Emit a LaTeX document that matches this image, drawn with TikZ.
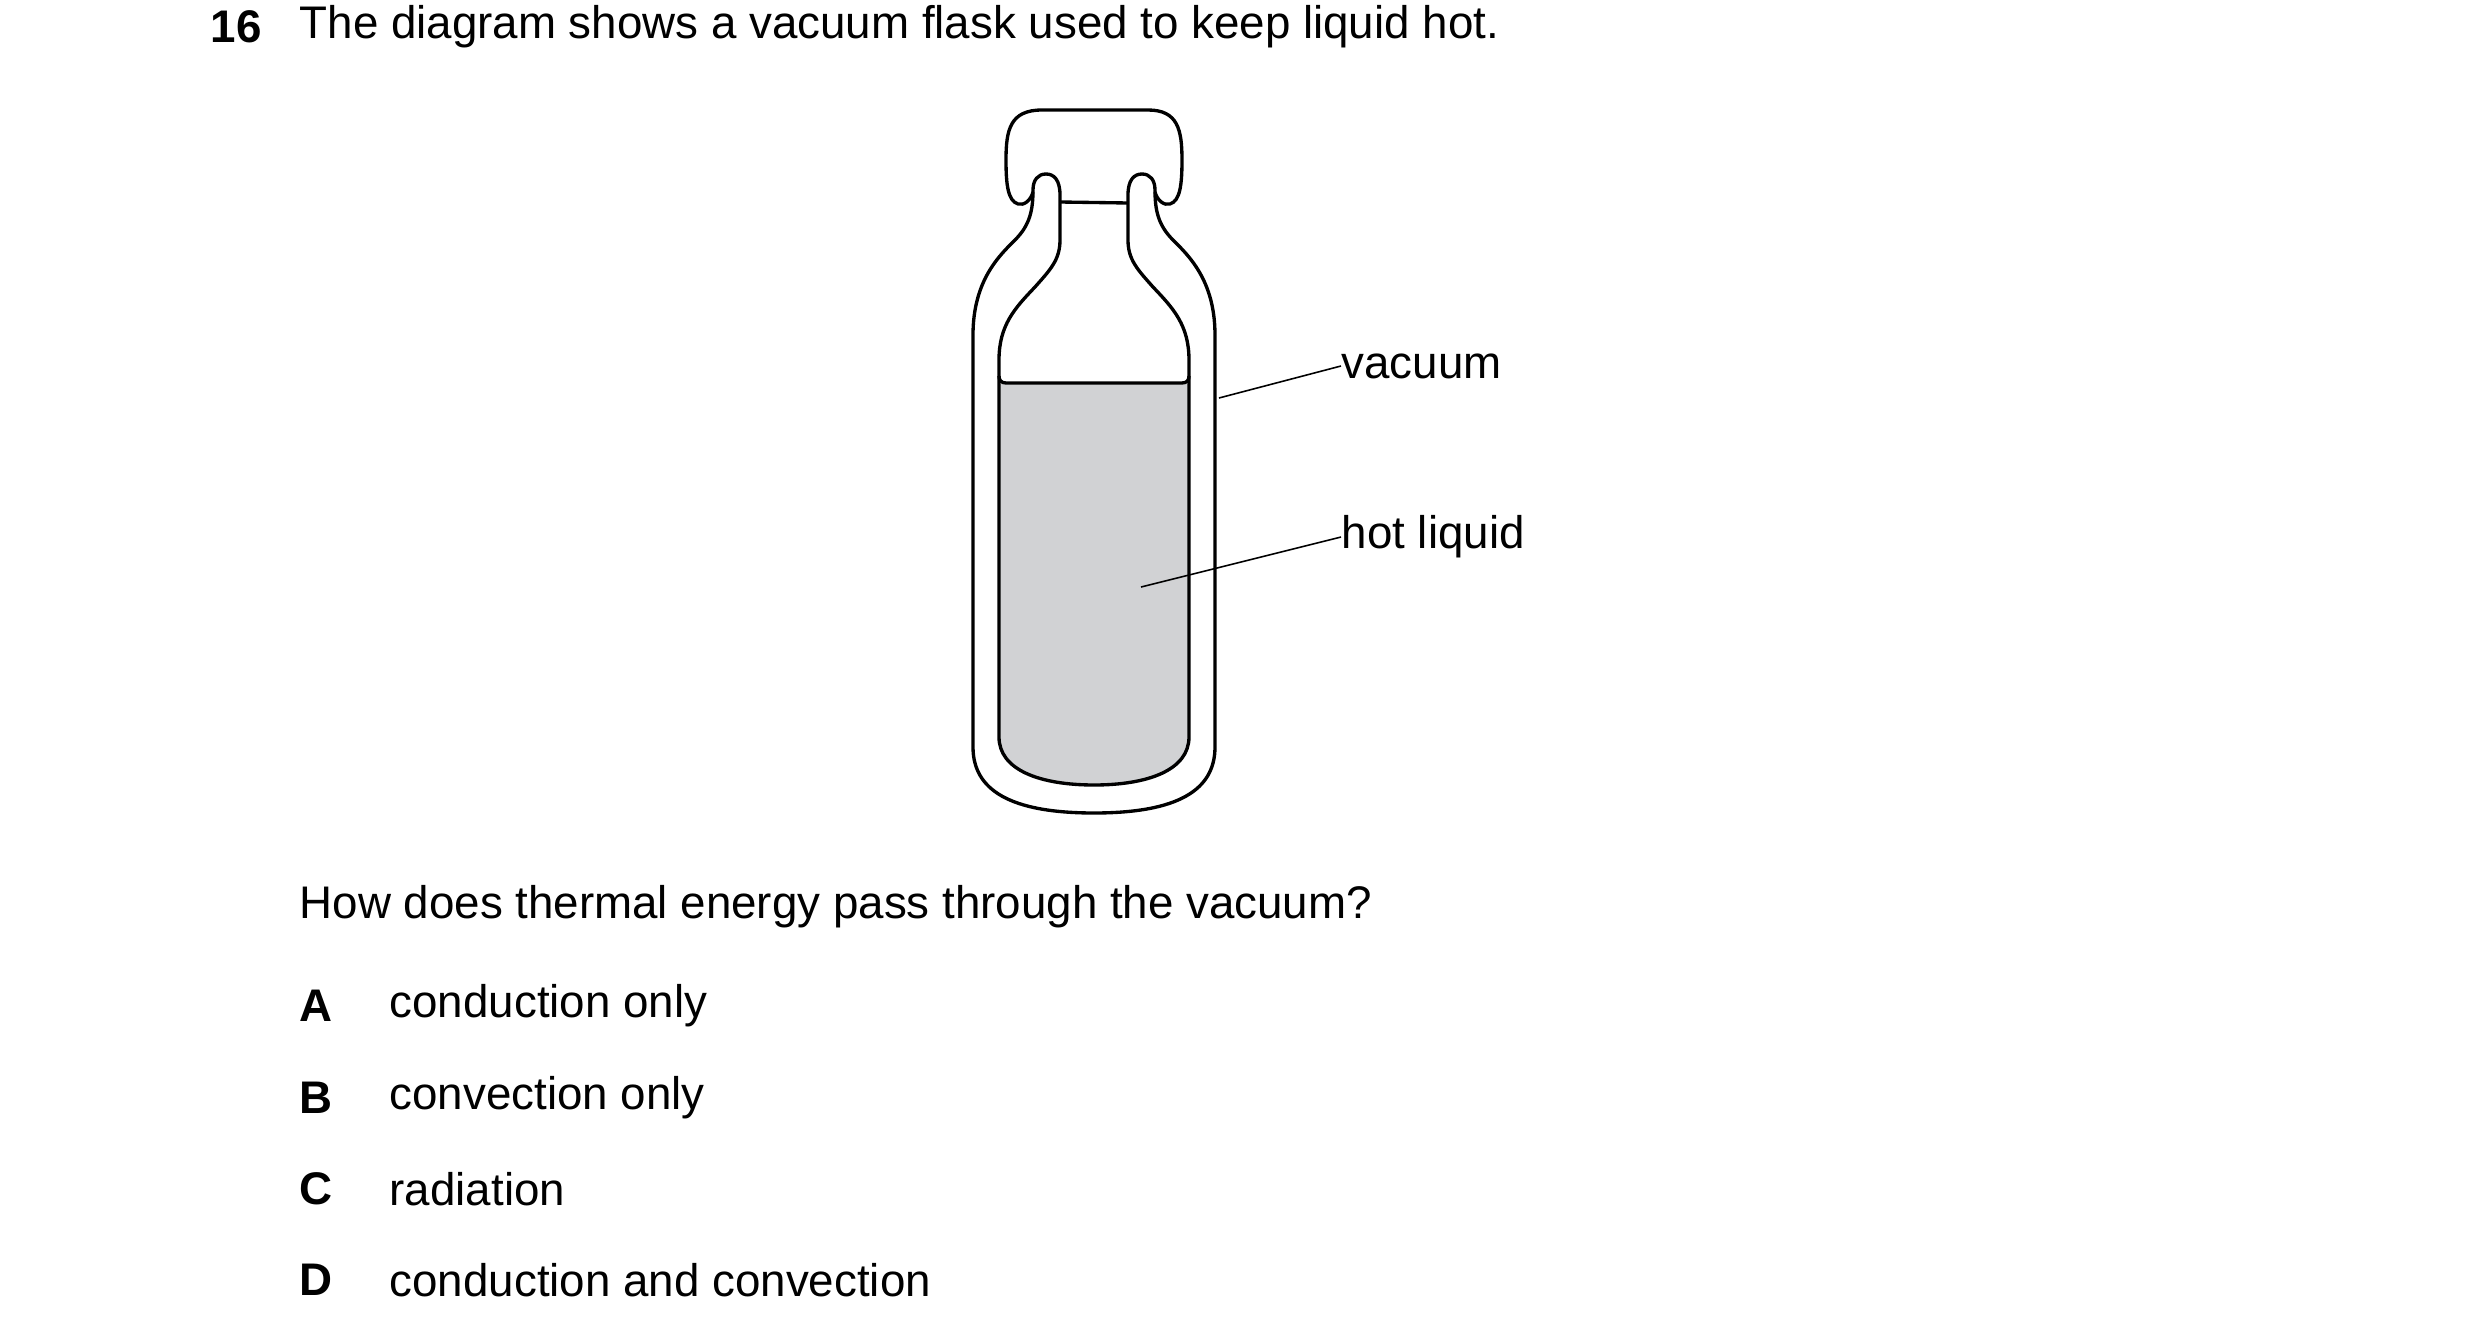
\documentclass[tikz,border=0pt]{standalone}
\usepackage{fontspec}
\setmainfont{Liberation Sans}
\definecolor{liq}{RGB}{209,210,212}
\begin{document}
\begin{tikzpicture}[x=0.01cm,y=-0.01cm,
  wall/.style={line width=0.95pt,line join=round},
  lead/.style={line width=0.45pt},
  txt/.style={anchor=west,inner sep=0pt,font=\fontsize{13}{15}\selectfont},
  lab/.style={anchor=west,inner sep=0pt,font=\fontsize{13}{15}\selectfont\bfseries}]
\useasboundingbox (0,0) rectangle (2480,1321);
% liquid
\fill[liq] (999,384) -- (999,737) .. controls (999,770) and (1040,785) .. (1094,785)
  .. controls (1148,785) and (1189,770) .. (1189,737) -- (1189,384) -- cycle;
\draw[wall] (999,376) .. controls (999,380) and (1001,383) .. (1006,383) -- (1182,383)
  .. controls (1187,383) and (1189,380) .. (1189,376);
% double wall
\draw[wall] (1094,813) .. controls (1010,813) and (973,790) .. (973,747)
  -- (973,335) .. controls (973,280) and (1000,255) .. (1015,240)
  .. controls (1030,225) and (1033,210) .. (1033,190)
  .. controls (1033,180) and (1038,174) .. (1046,174)
  .. controls (1054,174) and (1060,180) .. (1060,195)
  -- (1060,240) .. controls (1060,260) and (1050,270) .. (1035,287)
  .. controls (1015,308) and (999,325) .. (999,360)
  -- (999,737) .. controls (999,770) and (1040,785) .. (1094,785)
  .. controls (1148,785) and (1189,770) .. (1189,737)
  -- (1189,360) .. controls (1189,325) and (1173,308) .. (1153,287)
  .. controls (1138,270) and (1128,260) .. (1128,240)
  -- (1128,195) .. controls (1128,180) and (1134,174) .. (1142,174)
  .. controls (1150,174) and (1155,180) .. (1155,190)
  .. controls (1155,210) and (1158,225) .. (1173,240)
  .. controls (1188,255) and (1215,280) .. (1215,335)
  -- (1215,747) .. controls (1215,790) and (1178,813) .. (1094,813) -- cycle;
% neck top
\draw[wall] (1060,202) -- (1128,203);
% cap
\draw[wall] (1033,192) .. controls (1031,200) and (1024,206) .. (1018,204)
  .. controls (1008,201) and (1006,185) .. (1006,160)
  .. controls (1006,130) and (1010,110) .. (1042,110) -- (1148,110)
  .. controls (1178,110) and (1182,130) .. (1182,160)
  .. controls (1182,185) and (1180,201) .. (1170,204)
  .. controls (1164,206) and (1157,200) .. (1155,192);
% labels
\coordinate (v1) at (1219,398);
\node[txt] (vac) at (1341,366) {vacuum};
\draw[lead] (v1) -- (vac.west);
\coordinate (h1) at (1141,587);
\node[txt] (hot) at (1341,537) {hot liquid};
\draw[lead] (h1) -- (hot.west);
% text
\node[lab] (n16) at (210,27) {16};
\node[txt] (t1) at (299,27) {The diagram shows a vacuum flask used to keep liquid hot.};
\node[txt] (q) at (299,907) {How does thermal energy pass through the vacuum?};
\node[lab] (la) at (299,1006) {A}; \node[txt] (oa) at (389,1006) {conduction only};
\node[lab] (lb) at (299,1098) {B}; \node[txt] (ob) at (389,1098) {convection only};
\node[lab] (lc) at (299,1189) {C}; \node[txt] (oc) at (389,1189) {radiation};
\node[lab] (ld) at (299,1280) {D}; \node[txt] (od) at (389,1280) {conduction and convection};
\end{tikzpicture}
\end{document}
